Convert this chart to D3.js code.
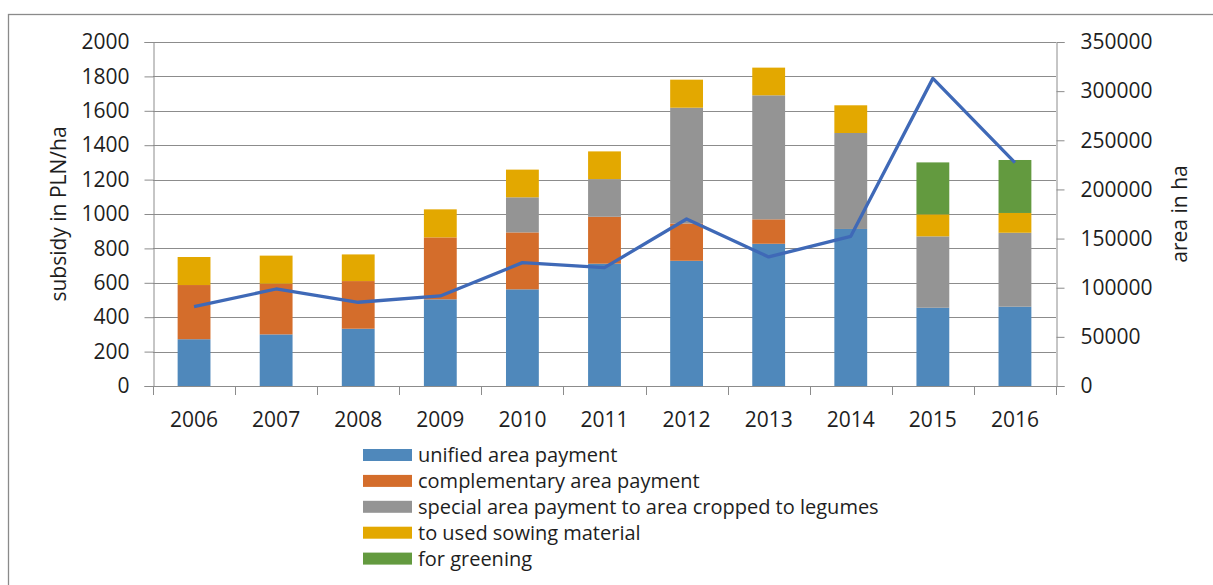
<!DOCTYPE html>
<html>
<head>
<meta charset="utf-8">
<script src="https://cdn.jsdelivr.net/npm/d3@7"></script>
<style>
  html, body { margin: 0; padding: 0; background: #fff; }
  svg { display: block; }
  text { font-family: "Open Sans", "Noto Sans", sans-serif; fill: #1e1e1e; }
</style>
</head>
<body>
<svg id="chart" width="1213" height="585"></svg>
<script>
// Years on the category axis
const years = ["2006", "2007", "2008", "2009", "2010", "2011", "2012", "2013", "2014", "2015", "2016"];

// Subsidy components, PLN/ha (stacked bars, left axis)
const unified       = [272, 300, 333, 504, 562, 711, 728, 827, 913, 455, 461];
const complementary = [315, 295, 277, 360, 331, 273, 217, 142,   0,   0,   0];
const legumes       = [  0,   0,   0,   0, 204, 219, 673, 721, 558, 415, 430];
const sowing        = [163, 163, 155, 163, 161, 161, 163, 161, 161, 128, 115];
const greening      = [  0,   0,   0,   0,   0,   0,   0,   0,   0, 302, 308];

// Area, ha (line, right axis)
const area = [80700, 98700, 85200, 91600, 125500, 120400, 169900, 131300, 152300, 313000, 227200];

// Axis ticks
const leftTicks  = [0, 200, 400, 600, 800, 1000, 1200, 1400, 1600, 1800, 2000];
const rightTicks = [0, 50000, 100000, 150000, 200000, 250000, 300000, 350000];

const seriesNames = [
  "unified area payment",
  "complementary area payment",
  "special area payment to area cropped to legumes",
  "to used sowing material",
  "for greening"
];
const seriesKeys = ["unified", "complementary", "legumes", "sowing", "greening"];
const seriesColors = ["#4f88bb", "#d46d2b", "#949494", "#e3a800", "#639a3f"];
const lineColor = "#3f69b7";

const rows = years.map((y, i) => ({
  year: y,
  unified: unified[i],
  complementary: complementary[i],
  legumes: legumes[i],
  sowing: sowing[i],
  greening: greening[i]
}));

const svg = d3.select("#chart");

// Outer chart frame
svg.append("rect")
  .attr("x", 8.5).attr("y", 14.5)
  .attr("width", 1300).attr("height", 700)
  .attr("fill", "none")
  .attr("stroke", "#8a8a8a")
  .attr("stroke-width", 1.3);

const plot = { left: 153, right: 1056, top: 42, bottom: 386 };

const x = d3.scaleBand()
  .domain(years)
  .range([plot.left, plot.right])
  .paddingInner(0.6)
  .paddingOuter(0.3);

const yL = d3.scaleLinear().domain([0, 2000]).range([plot.bottom, plot.top]);
const yR = d3.scaleLinear().domain([0, 350000]).range([plot.bottom, plot.top]);

const gridColor = "#8c8c8c";
const fontStack = "'Open Sans', 'Noto Sans', sans-serif";

// Horizontal gridlines
svg.append("g")
  .selectAll("line")
  .data(leftTicks)
  .join("line")
  .attr("x1", plot.left).attr("x2", plot.right)
  .attr("y1", d => Math.round(yL(d)) + 0.5)
  .attr("y2", d => Math.round(yL(d)) + 0.5)
  .attr("stroke", gridColor)
  .attr("stroke-width", 1);

// Stacked bars
const stack = d3.stack().keys(seriesKeys);
const stacked = stack(rows);

svg.append("g")
  .selectAll("g")
  .data(stacked)
  .join("g")
  .attr("fill", (d, i) => seriesColors[i])
  .selectAll("rect")
  .data(d => d.filter(p => p[1] - p[0] > 0))
  .join("rect")
  .attr("x", d => x(d.data.year))
  .attr("width", x.bandwidth())
  .attr("y", d => yL(d[1]))
  .attr("height", d => yL(d[0]) - yL(d[1]));

// Left axis
const leftAxis = d3.axisLeft(yL).tickValues(leftTicks).tickSize(9).tickPadding(15).tickFormat(d3.format("d"));
const gL = svg.append("g").attr("transform", `translate(${plot.left + 0.5},0)`).call(leftAxis);

// Right axis
const rightAxis = d3.axisRight(yR).tickValues(rightTicks).tickSize(8).tickPadding(16).tickFormat(d3.format("d"));
const gR = svg.append("g").attr("transform", `translate(${plot.right + 0.5},0)`).call(rightAxis);

// Category axis: ticks sit between categories
const step = x.step();
const catBounds = d3.range(years.length + 1).map(i => plot.left + i * step);
const gX = svg.append("g");
gX.append("line")
  .attr("x1", plot.left).attr("x2", plot.right)
  .attr("y1", plot.bottom + 0.5).attr("y2", plot.bottom + 0.5)
  .attr("stroke", gridColor);
gX.selectAll("line.tick")
  .data(catBounds)
  .join("line")
  .attr("class", "tick")
  .attr("x1", d => Math.round(d) + 0.5).attr("x2", d => Math.round(d) + 0.5)
  .attr("y1", plot.bottom).attr("y2", plot.bottom + 9)
  .attr("stroke", gridColor);
gX.selectAll("text")
  .data(years)
  .join("text")
  .attr("x", d => x(d) + x.bandwidth() / 2)
  .attr("y", 427)
  .attr("text-anchor", "middle")
  .style("font-size", "21px")
  .text(d => d);

[gL, gR].forEach(g => {
  g.select(".domain").attr("stroke", gridColor);
  g.selectAll(".tick line").attr("stroke", gridColor);
  g.selectAll(".tick text").style("font-size", "21px").attr("fill", "#1e1e1e")
    .style("font-family", fontStack);
});

// Area line
const line = d3.line()
  .x((d, i) => x(years[i]) + x.bandwidth() / 2)
  .y(d => yR(d));

svg.append("path")
  .datum(area)
  .attr("d", line)
  .attr("fill", "none")
  .attr("stroke", lineColor)
  .attr("stroke-width", 3.3)
  .attr("stroke-linejoin", "round");

// Axis titles
svg.append("text")
  .attr("transform", "translate(58,214) rotate(-90)")
  .attr("text-anchor", "middle")
  .attr("dominant-baseline", "central")
  .style("font-size", "21px")
  .text("subsidy in PLN/ha");

svg.append("text")
  .attr("transform", "translate(1179,214) rotate(-90)")
  .attr("text-anchor", "middle")
  .attr("dominant-baseline", "central")
  .style("font-size", "21px")
  .text("area in ha");

// Legend
const legend = svg.append("g");
const legendItems = legend.selectAll("g")
  .data(seriesNames)
  .join("g")
  .attr("transform", (d, i) => `translate(363,${449 + i * 25.9})`);
legendItems.append("rect")
  .attr("width", 49).attr("height", 12)
  .attr("fill", (d, i) => seriesColors[i]);
legendItems.append("text")
  .attr("x", 55)
  .attr("y", 13)
  .style("font-size", "20px")
  .text(d => d);
</script>
</body>
</html>
